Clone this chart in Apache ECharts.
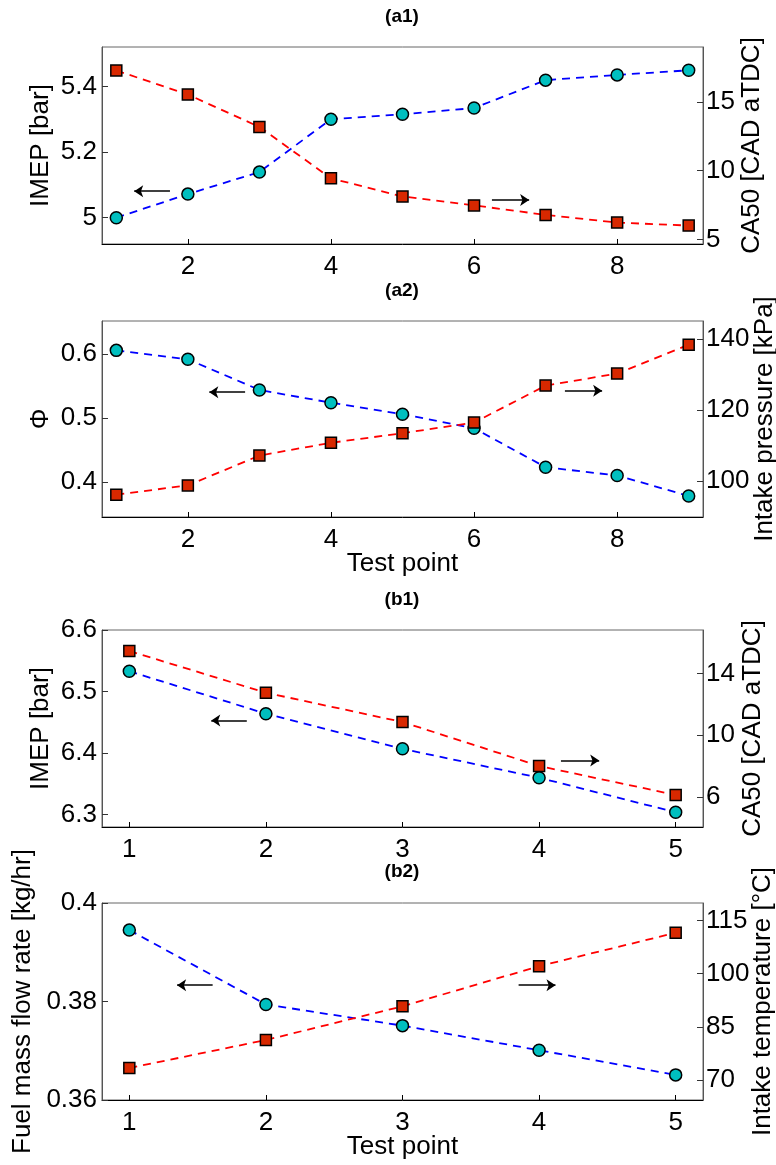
<!DOCTYPE html>
<html>
<head>
<meta charset="utf-8">
<script src="https://cdn.jsdelivr.net/npm/echarts@6/dist/echarts.min.js"></script>
<style>
html,body{margin:0;padding:0;background:#fff;}
#c{width:776px;height:1165px;}
</style>
</head>
<body>
<div id="c"></div>
<script>
// ---- data ----
const aX = [1, 2, 3, 4, 5, 6, 7, 8, 9];
const a1IMEP = [5.000, 5.072, 5.139, 5.300, 5.315, 5.334, 5.419, 5.435, 5.449];
const a1CA50 = [17.29, 15.54, 13.18, 9.44, 8.12, 7.47, 6.78, 6.22, 6.00];
const a2Phi = [0.606, 0.592, 0.544, 0.524, 0.506, 0.484, 0.423, 0.410, 0.378];
const a2Pin = [96.1, 98.7, 107.1, 110.7, 113.4, 116.4, 126.8, 130.2, 138.3];
const bX = [1, 2, 3, 4, 5];
const b1IMEP = [6.533, 6.464, 6.407, 6.360, 6.304];
const b1CA50 = [15.44, 12.75, 10.86, 8.02, 6.15];
const b2Fuel = [0.3945, 0.3794, 0.3751, 0.3701, 0.3651];
const b2Tin = [73.4, 81.3, 90.8, 102.1, 111.5];

// tick labels
const aXTicks = [2, 4, 6, 8];
const bXTicks = [1, 2, 3, 4, 5];
const a1LTicks = [5, 5.2, 5.4];
const a1RTicks = [5, 10, 15];
const a2LTicks = [0.4, 0.5, 0.6];
const a2RTicks = [100, 120, 140];
const b1LTicks = [6.3, 6.4, 6.5, 6.6];
const b1RTicks = [6, 10, 14];
const b2LTicks = [0.36, 0.38, 0.4];
const b2RTicks = [70, 85, 100, 115];

// arrows (from x, to x, y on left axis)
const a1Arrows = [[1.75, 1.25, 5.081], [6.25, 6.77, 5.054]];
const a2Arrows = [[2.80, 2.30, 0.5405], [7.27, 7.79, 0.5426]];
const b1Arrows = [[1.86, 1.60, 6.453], [4.16, 4.44, 6.388]];
const b2Arrows = [[1.61, 1.35, 0.3833], [3.85, 4.12, 0.3833]];

const FONT = '"Liberation Sans", Arial, Helvetica, sans-serif';
const FS = 26;

const grids = [
  {left: 102, right: 73, top: 47, height: 197},
  {left: 102, right: 73, top: 321, height: 196},
  {left: 102, right: 73, top: 630, height: 197},
  {left: 102, right: 73, top: 903, height: 197}
].map(g => Object.assign(g, {show: true, borderColor: '#666', borderWidth: 1, backgroundColor: 'transparent', containLabel: false, outerBoundsMode: 'none'}));

function xAx(i, min, max, ticks, name) {
  return {
    type: 'value', gridIndex: i, min: min, max: max,
    axisLine: {show: true, onZero: false, lineStyle: {color: '#000', width: 1}},
    axisTick: {show: true, inside: true, length: 5, customValues: ticks, lineStyle: {color: '#000'}},
    axisLabel: {customValues: ticks, fontSize: FS, fontFamily: FONT, color: '#000', margin: 10},
    splitLine: {show: false},
    name: name || '', nameLocation: 'middle', nameGap: 34, nameMoveOverlap: false,
    nameTextStyle: {fontSize: FS, fontFamily: FONT, color: '#000'}
  };
}
function yAx(i, pos, min, max, ticks, name, gap) {
  return {
    type: 'value', gridIndex: i, position: pos, min: min, max: max,
    axisLine: {show: true, onZero: false, lineStyle: {color: '#555', width: 1}},
    axisTick: {show: true, inside: true, length: 6, customValues: ticks, lineStyle: {color: '#333'}},
    axisLabel: {customValues: ticks, fontSize: FS, fontFamily: FONT, color: '#000', margin: pos === 'left' ? 5 : 3},
    splitLine: {show: false},
    name: name, nameLocation: 'middle', nameGap: gap, nameRotate: 90, nameMoveOverlap: false,
    nameTextStyle: {fontSize: FS, fontFamily: FONT, color: '#000'}
  };
}

const xAxes = [
  xAx(0, 0.8, 9.2, aXTicks),
  xAx(1, 0.8, 9.2, aXTicks, 'Test point'),
  xAx(2, 0.8, 5.2, bXTicks),
  xAx(3, 0.8, 5.2, bXTicks, 'Test point')
];
const yAxes = [
  yAx(0, 'left', 4.92, 5.52, a1LTicks, 'IMEP [bar]', 48),
  yAx(0, 'right', 4.66, 19.0, a1RTicks, 'CA50 [CAD aTDC]', 36),
  yAx(1, 'left', 0.345, 0.652, a2LTicks, 'Φ', 48),
  yAx(1, 'right', 89.8, 145, a2RTicks, 'Intake pressure [kPa]', 49),
  yAx(2, 'left', 6.28, 6.6, b1LTicks, 'IMEP [bar]', 48),
  yAx(2, 'right', 4.08, 16.8, b1RTicks, 'CA50 [CAD aTDC]', 37),
  yAx(3, 'left', 0.36, 0.4, b2LTicks, 'Fuel mass flow rate [kg/hr]', 66),
  yAx(3, 'right', 64.4, 119.9, b2RTicks, 'Intake temperature [°C]', 47)
];

function pairs(xs, ys) { return xs.map((x, k) => [x, ys[k]]); }
function arrowLines(arr) {
  return {
    silent: true, symbol: ['none', 'arrow'], symbolSize: 9, animation: false,
    label: {show: false},
    lineStyle: {color: '#000', width: 1.5, type: 'solid'},
    itemStyle: {color: '#000'},
    emphasis: {disabled: true},
    data: arr.map(a => [{coord: [a[0], a[2]]}, {coord: [a[1], a[2]]}])
  };
}
function blue(i, xs, ys, arrows) {
  return {
    type: 'line', xAxisIndex: i, yAxisIndex: 2 * i, data: pairs(xs, ys),
    symbol: 'circle', symbolSize: 12, showAllSymbol: true,
    lineStyle: {color: '#0000ff', width: 1.8, type: [8, 6]},
    itemStyle: {color: '#00bfbf', borderColor: '#000', borderWidth: 1.5},
    markLine: arrowLines(arrows), animation: false, z: 2
  };
}
function red(i, xs, ys) {
  return {
    type: 'line', xAxisIndex: i, yAxisIndex: 2 * i + 1, data: pairs(xs, ys),
    symbol: 'rect', symbolSize: 11, showAllSymbol: true,
    lineStyle: {color: '#ff0000', width: 1.8, type: [8, 6]},
    itemStyle: {color: '#d82800', borderColor: '#000', borderWidth: 1.5},
    animation: false, z: 3
  };
}

const titleStyle = {fontSize: 19, fontWeight: 'bold', fontFamily: FONT, color: '#000'};
const titles = [['(a1)', 7], ['(a2)', 281], ['(b1)', 590], ['(b2)', 862]].map(t => ({
  text: t[0], left: 402, top: t[1], textAlign: 'center', padding: 0, textStyle: titleStyle
}));

const chart = echarts.init(document.getElementById('c'), null, {renderer: 'canvas'});
chart.setOption({
  backgroundColor: '#fff',
  animation: false,
  title: titles,
  grid: grids,
  xAxis: xAxes,
  yAxis: yAxes,
  series: [
    blue(0, aX, a1IMEP, a1Arrows), red(0, aX, a1CA50),
    blue(1, aX, a2Phi, a2Arrows), red(1, aX, a2Pin),
    blue(2, bX, b1IMEP, b1Arrows), red(2, bX, b1CA50),
    blue(3, bX, b2Fuel, b2Arrows), red(3, bX, b2Tin)
  ]
});
</script>
</body>
</html>
